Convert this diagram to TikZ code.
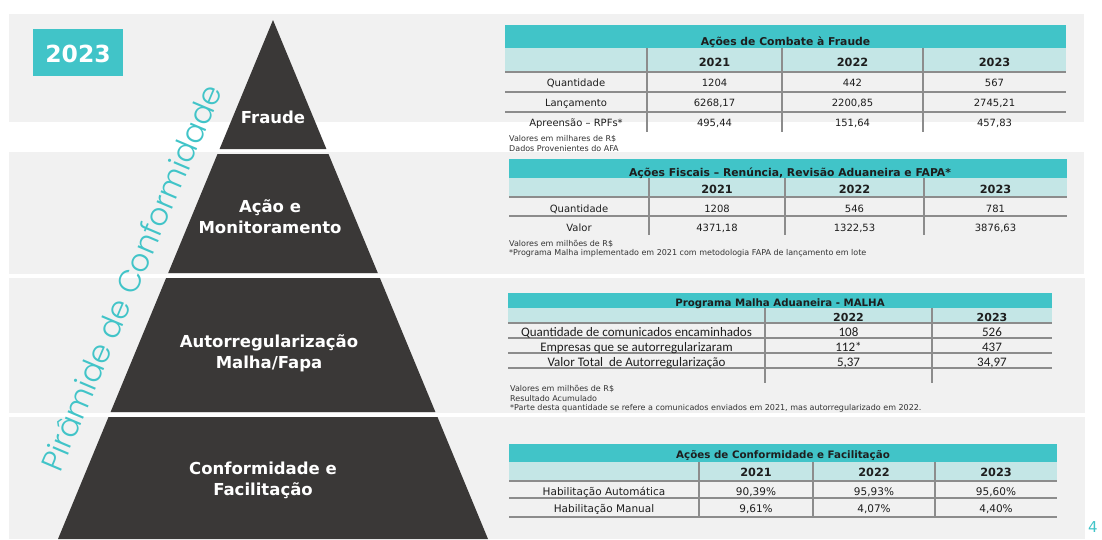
\documentclass[tikz,border=0pt]{standalone}
\usepackage{fontspec}
\setmainfont{DejaVu Sans}
\newfontfamily\carl{Carlito}
\newfontfamily\pop{Poppins}[UprightFont={* Light}]
\definecolor{tealA}{HTML}{41C4C8}
\definecolor{tealB}{HTML}{C4E6E6}
\definecolor{bandgray}{HTML}{F1F1F1}
\definecolor{pyrgray}{HTML}{3A3837}
\definecolor{rulegray}{HTML}{8C8C8C}
\definecolor{ink}{HTML}{1E1E1E}
\definecolor{noteink}{HTML}{333333}
\begin{document}
\begin{tikzpicture}[x=1pt,y=-1pt,
  band/.style={fill=bandgray},
  pyr/.style={fill=pyrgray},
  plab/.style={text=white, font=\bfseries\fontsize{16.5}{21}\selectfont, align=center, inner sep=0pt},
  hdr/.style={anchor=base, inner sep=0pt, text=ink, font=\bfseries\fontsize{10.8}{13}\selectfont},
  yr/.style={anchor=base, inner sep=0pt, text=ink, font=\bfseries\fontsize{11.3}{13}\selectfont},
  cell/.style={anchor=base, inner sep=0pt, text=ink, font=\fontsize{10}{12}\selectfont},
  cellc/.style={anchor=base, inner sep=0pt, text=ink, font=\carl\fontsize{13}{15}\selectfont},
  cellf/.style={anchor=base, inner sep=0pt, text=ink, font=\fontsize{10.5}{12}\selectfont},
  note/.style={anchor=base west, inner sep=0pt, text=noteink, font=\fontsize{8}{9}\selectfont},
  trule/.style={draw=rulegray, line width=1.4pt},
  vrule/.style={draw=rulegray, line width=1.2pt}
]
\useasboundingbox (0,0) rectangle (1102,539);
\fill[white] (0,0) rectangle (1102,539);
% bands
\fill[band] (9,14) rectangle (1084,122);
\fill[band] (9,152) rectangle (1084,274);
\fill[band] (9,278) rectangle (1085,413);
\fill[band] (9,417) rectangle (1085,539);
% pyramid
\fill[pyr] (273,20) -- (326.4,149) -- (219.6,149) -- cycle;
\fill[pyr] (217.5,154) -- (328.5,154) -- (377.8,273) -- (168.2,273) -- cycle;
\fill[pyr] (166.1,278) -- (379.9,278) -- (435.4,412) -- (110.6,412) -- cycle;
\fill[pyr] (108.5,417) -- (437.5,417) -- (488,539) -- (58,539) -- cycle;
\node[plab] (fraude) at (273,117) {Fraude};
\node[plab] (acao) at (270,217) {Ação e\\Monitoramento};
\node[plab] (autor) at (269,353) {Autorregularização\\Malha/Fapa};
\node[plab] (confo) at (263,480.5) {Conformidade e\\Facilitação};
% year box
\fill[tealA] (33,29) rectangle (123,76);
\node[text=white, font=\bfseries\fontsize{23.5}{28}\selectfont, inner sep=0pt] (year) at (78,53.5) {2023};
% pyramid title
\node[text=tealA, font=\pop\fontsize{30.8}{36}\selectfont, inner sep=0pt, rotate=67] (ptitle) at (131,277.5) {Pirâmide de Conformidade};
% page number
\node[anchor=base, inner sep=0pt, text=tealA, font=\fontsize{15}{18}\selectfont] (pnum) at (1093,532) {4};

% ---------- Table 1
\fill[tealA] (505,25) rectangle (1066,48);
\fill[tealB] (505,48) rectangle (1066,72);
\foreach \yy in {72,92,112} \draw[trule] (505,\yy) -- (1066,\yy);
\foreach \xx in {647,782,923} \draw[vrule] (\xx,48) -- (\xx,132);
\node[hdr] (t1h) at (785.5,45.5) {Ações de Combate à Fraude};
\foreach \xx/\yv [count=\i] in {714.5/2021, 852.5/2022, 994.5/2023} \node[yr] (t1y\i) at (\xx,66) {\yv};
\foreach \yy/\lab/\va/\vb/\vc [count=\i] in {86/Quantidade/1204/442/567, 106/Lançamento/{6268,17}/{2200,85}/{2745,21}, 126/{Apreensão – RPFs*}/{495,44}/{151,64}/{457,83}} {
  \node[cell] (t1l\i) at (576,\yy) {\lab};
  \node[cell] (t1a\i) at (714.5,\yy) {\va};
  \node[cell] (t1b\i) at (852.5,\yy) {\vb};
  \node[cell] (t1c\i) at (994.5,\yy) {\vc};
}
\node[note] (t1n1) at (509,141.5) {Valores em milhares de R\$};
\node[note] (t1n2) at (509,151) {Dados Provenientes do AFA};

% ---------- Table 2
\fill[tealA] (509,159) rectangle (1067,178);
\fill[tealB] (509,178) rectangle (1067,197);
\foreach \yy in {197,216} \draw[trule] (509,\yy) -- (1067,\yy);
\foreach \xx in {649,785,924} \draw[vrule] (\xx,178) -- (\xx,235);
\node[hdr] (t2h) at (790,176.5) {Ações Fiscais – Renúncia, Revisão Aduaneira e FAPA*};
\foreach \xx/\yv [count=\i] in {717/2021, 854.5/2022, 995.5/2023} \node[yr] (t2y\i) at (\xx,193.5) {\yv};
\foreach \yy/\lab/\va/\vb/\vc [count=\i] in {212/Quantidade/1208/546/781, 231/Valor/{4371,18}/{1322,53}/{3876,63}} {
  \node[cell] (t2l\i) at (579,\yy) {\lab};
  \node[cell] (t2a\i) at (717,\yy) {\va};
  \node[cell] (t2b\i) at (854.5,\yy) {\vb};
  \node[cell] (t2c\i) at (995.5,\yy) {\vc};
}
\node[note] (t2n1) at (509,246) {Valores em milhões de R\$};
\node[note] (t2n2) at (509,255.5) {*Programa Malha implementado em 2021 com metodologia FAPA de lançamento em lote};

% ---------- Table 3
\fill[tealA] (508,293) rectangle (1052,308);
\fill[tealB] (508,308) rectangle (1052,323);
\foreach \yy in {323,338,353,368} \draw[trule] (508,\yy) -- (1052,\yy);
\foreach \xx in {765,932} \draw[vrule] (\xx,308) -- (\xx,383);
\node[hdr, font=\bfseries\fontsize{10.2}{12}\selectfont] (t3h) at (780,306.5) {Programa Malha Aduaneira - MALHA};
\foreach \xx/\yv [count=\i] in {848.5/2022, 992/2023} \node[yr, font=\bfseries\fontsize{11}{13}\selectfont] (t3y\i) at (\xx,321.5) {\yv};
\foreach \yy/\lab/\va/\vb [count=\i] in {336.5/Quantidade de comunicados encaminhados/108/526, 351.5/Empresas que se autorregularizaram/112*/437, 366.5/{Valor Total~ de Autorregularização}/{5,37}/{34,97}} {
  \node[cellc] (t3l\i) at (636.5,\yy) {\lab};
  \node[cellc] (t3a\i) at (848.5,\yy) {\va};
  \node[cellc] (t3b\i) at (992,\yy) {\vb};
}
\node[note] (t3n1) at (510,391.5) {Valores em milhões de R\$};
\node[note] (t3n2) at (510,401) {Resultado Acumulado};
\node[note] (t3n3) at (510,410.5) {*Parte desta quantidade se refere a comunicados enviados em 2021, mas autorregularizado em 2022.};

% ---------- Table 4
\fill[tealA] (509,444) rectangle (1057,462);
\fill[tealB] (509,462) rectangle (1057,481);
\foreach \yy in {481,498,517} \draw[trule] (509,\yy) -- (1057,\yy);
\foreach \xx in {699,813,935} \draw[vrule] (\xx,462) -- (\xx,517);
\node[hdr, font=\bfseries\fontsize{10.3}{12}\selectfont] (t4h) at (783,458.5) {Ações de Conformidade e Facilitação};
\foreach \xx/\yv [count=\i] in {756/2021, 874/2022, 996/2023} \node[yr] (t4y\i) at (\xx,476.5) {\yv};
\foreach \yy/\lab/\va/\vb/\vc [count=\i] in {495/Habilitação Automática/{90,39\%}/{95,93\%}/{95,60\%}, 512.7/Habilitação Manual/{9,61\%}/{4,07\%}/{4,40\%}} {
  \node[cellf] (t4l\i) at (604,\yy) {\lab};
  \node[cellf] (t4a\i) at (756,\yy) {\va};
  \node[cellf] (t4b\i) at (874,\yy) {\vb};
  \node[cellf] (t4c\i) at (996,\yy) {\vc};
}
\end{tikzpicture}
\end{document}
